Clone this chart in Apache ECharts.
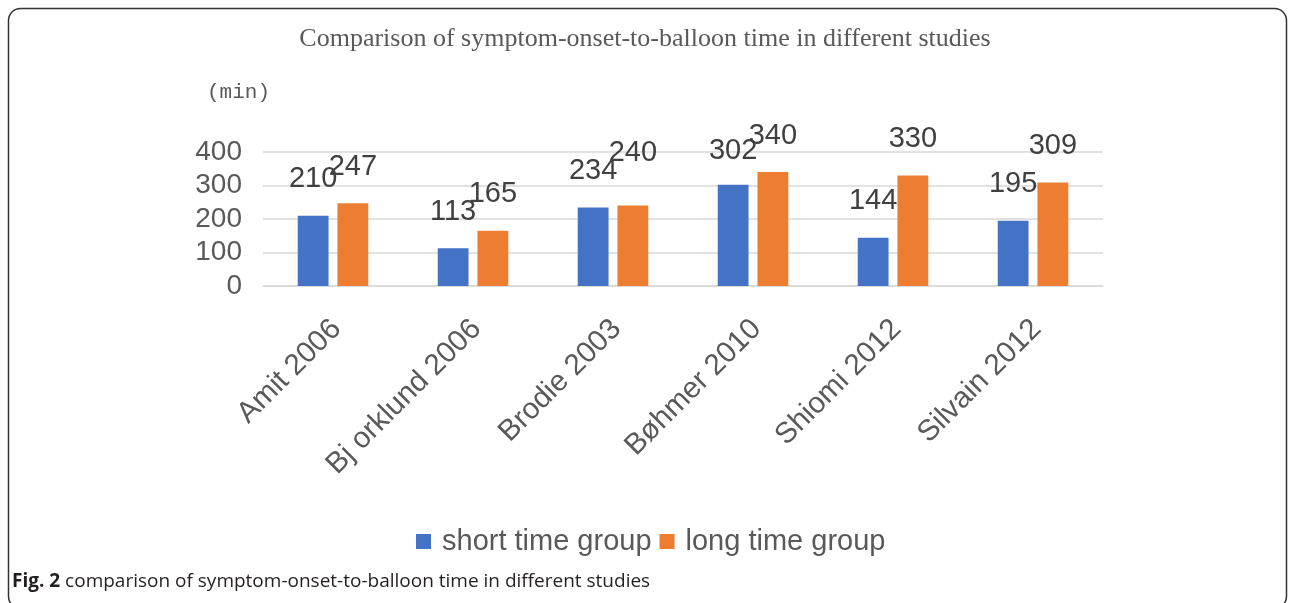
<!DOCTYPE html>
<html>
<head>
<meta charset="utf-8">
<script src="https://cdn.jsdelivr.net/npm/echarts@6/dist/echarts.min.js"></script>
<style>
html,body{margin:0;padding:0;background:#fff;}
#chart{width:1290px;height:603px;}
</style>
</head>
<body>
<div id="chart"></div>
<script>
const categories = ['Amit 2006', 'Bj orklund 2006', 'Brodie 2003', 'Bøhmer 2010', 'Shiomi 2012', 'Silvain 2012'];
const shortTime = [210, 113, 234, 302, 144, 195];
const longTime = [247, 165, 240, 340, 330, 309];
const seriesNames = ['short time group', 'long time group'];
const yTicks = {min: 0, max: 400, interval: 100};
const titleText = 'Comparison of symptom-onset-to-balloon time in different studies';
const unitText = '(min)';
const captionBold = 'Fig. 2';
const captionText = ' comparison of symptom-onset-to-balloon time in different studies';
// extra upward nudge (px) of individual value labels, as placed in the original figure
const shortLabelLift = [0, 0, 0, -3, 0, 0];
const longLabelLift = [0, 0, 16, 0, 0, 0];

const chart = echarts.init(document.getElementById('chart'), null, {renderer: 'canvas'});
const labelStyle = {
  show: true, position: 'top', distance: 22,
  fontFamily: 'Liberation Sans, Arial, sans-serif', fontSize: 29, color: '#404040'
};
function withLift(values, lifts) {
  return values.map((v, i) => lifts[i] ? {value: v, label: {offset: [0, -lifts[i]]}} : v);
}
chart.setOption({
  animation: false,
  backgroundColor: '#ffffff',
  title: {
    text: titleText,
    left: 'center', top: 21,
    textStyle: {fontFamily: 'Liberation Serif, Times New Roman, serif', fontWeight: 'normal', fontSize: 26, color: '#595959'}
  },
  legend: {
    data: seriesNames,
    left: 411, top: 522,
    itemWidth: 15, itemHeight: 15, itemGap: 8,
    icon: 'rect',
    textStyle: {fontFamily: 'Liberation Sans, Arial, sans-serif', fontSize: 29, color: '#595959', padding: [0, 0, 0, 6]}
  },
  grid: {left: 263, right: 187, top: 152, bottom: 317, containLabel: false},
  xAxis: {
    type: 'category', data: categories,
    axisLine: {show: true, lineStyle: {color: '#d9d9d9', width: 1.5}},
    axisTick: {show: false},
    axisLabel: {rotate: 45, margin: 42, interval: 0, padding: [8, -5, 0, 0],
      fontFamily: 'Liberation Sans, Arial, sans-serif', fontSize: 29.5, color: '#595959'}
  },
  yAxis: {
    type: 'value', min: yTicks.min, max: yTicks.max, interval: yTicks.interval,
    axisLine: {show: false}, axisTick: {show: false},
    splitLine: {lineStyle: {color: '#d9d9d9', width: 1.5}},
    axisLabel: {margin: 21, fontFamily: 'Liberation Sans, Arial, sans-serif', fontSize: 28, color: '#595959'}
  },
  series: [
    {name: seriesNames[0], type: 'bar', data: withLift(shortTime, shortLabelLift), barWidth: '22%', barGap: '29%',
     itemStyle: {color: '#4472C4'}, label: labelStyle},
    {name: seriesNames[1], type: 'bar', data: withLift(longTime, longLabelLift), barWidth: '22%', barGap: '29%',
     itemStyle: {color: '#ED7D31'}, label: labelStyle}
  ],
  graphic: [
    {type: 'rect', shape: {x: 8.5, y: 8.5, width: 1278, height: 600, r: 12},
     style: {fill: 'none', stroke: '#333333', lineWidth: 1.5}, silent: true},
    {type: 'text', left: 207, top: 82,
     style: {text: unitText, fontFamily: 'Liberation Mono, DejaVu Sans Mono, monospace', fontSize: 21, fill: '#595959'}},
    {type: 'text', left: 12, top: 572,
     style: {
       text: '{b|' + captionBold + '}{r|' + captionText + '}',
       rich: {
         b: {fontFamily: 'Open Sans, sans-serif', fontWeight: 'bold', fontSize: 19, fill: '#231f20', color: '#231f20'},
         r: {fontFamily: 'Open Sans, sans-serif', fontSize: 19, fill: '#231f20', color: '#231f20'}
       }
     }}
  ]
});
</script>
</body>
</html>
